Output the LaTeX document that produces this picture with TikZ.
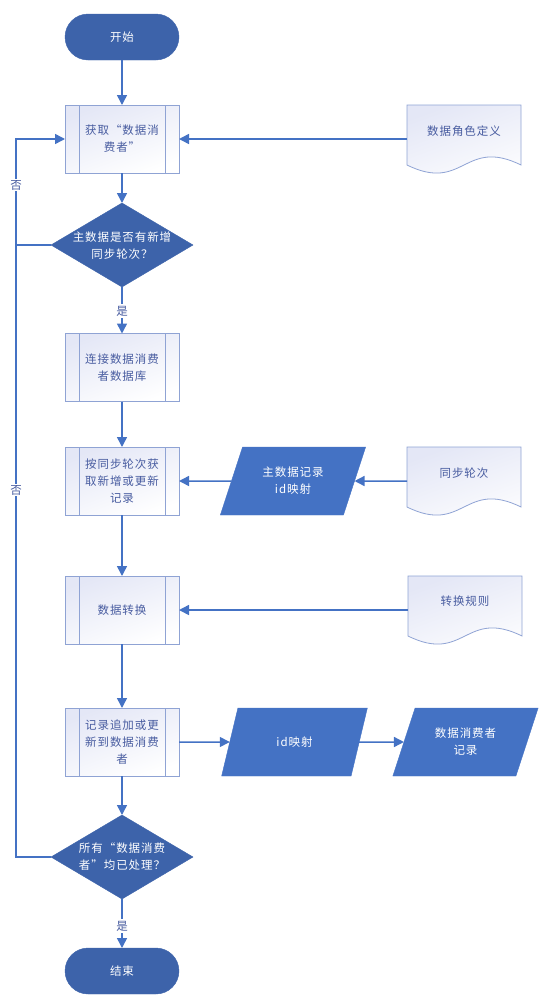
\documentclass[tikz,border=0pt]{standalone}
\usepackage{fontspec}
\setmainfont{Noto Sans CJK SC}
\newfontfamily\fs[LetterSpace=8]{Noto Sans CJK SC}
\usetikzlibrary{shapes.geometric,arrows.meta,backgrounds}
\definecolor{dk}{RGB}{61,99,170}
\definecolor{md}{RGB}{68,114,196}
\definecolor{ln}{RGB}{68,114,196}
\definecolor{bd}{RGB}{143,163,212}
\definecolor{tx}{RGB}{72,92,160}
\definecolor{lf}{RGB}{228,231,246}
\begin{document}
\begin{tikzpicture}[x=1pt,y=-1pt,
  every node/.style={font=\fs\fontsize{11.5pt}{17pt}\selectfont, inner sep=0pt, outer sep=0pt},
  term/.style={draw=dk, fill=dk, rounded corners=23pt, minimum width=114pt, minimum height=46pt, text=white},
  proc/.style={draw=bd, line width=0.8pt, shading=axis, top color=lf, bottom color=white, shading angle=20,
    minimum width=114pt, minimum height=68pt, text=tx, align=center,
    path picture={\draw[bd, line width=0.8pt]
      ([xshift=14pt]path picture bounding box.north west) -- ([xshift=14pt]path picture bounding box.south west)
      ([xshift=-14pt]path picture bounding box.north east) -- ([xshift=-14pt]path picture bounding box.south east);}},
  dia/.style={shape=diamond, fill=dk, draw=dk, minimum width=142pt, minimum height=84pt, aspect=1.69},
  diatext/.style={text=white, align=center},
  para/.style={shape=trapezium, trapezium stretches=true, trapezium left angle=64, trapezium right angle=116,
    fill=md, draw=md, minimum width=146pt, minimum height=68pt, text=white, align=center},
  docbox/.style={minimum width=114pt, minimum height=68pt},
  doctext/.style={text=tx, align=center},
  yesno/.style={fill=white, text=tx, inner sep=1.5pt},
  arr/.style={draw=ln, line width=1.5pt, -{Triangle[length=10pt,width=10pt]}},
  con/.style={draw=ln, line width=1.5pt},
  docshape/.style={draw=bd, line width=0.8pt, shading=axis, top color=lf, bottom color=white, shading angle=20}
]
\useasboundingbox (0,0) rectangle (550,999);

% main column
\node[term] (st) at (122,37) {开始};
\node[proc] (b1) at (122,139) {获取“数据消\\费者”};
\node[dia] (dd1) at (122,245) {};
\node[diatext] (dt1) at (122,246) {主数据是否有新增\\同步轮次？};
\node[proc] (b2) at (122,367.5) {连接数据消费\\者数据库};
\node[proc] (b3) at (122,481) {按同步轮次获\\取新增或更新\\记录};
\node[proc] (b4) at (122,610) {数据转换};
\node[proc] (b5) at (122,742) {记录追加或更\\新到数据消费\\者};
\node[dia] (dd2) at (122,857) {};
\node[diatext] (dt2) at (122,857) {所有“数据消费\\者”均已处理？};
\node[term] (en) at (122,971) {结束};

% documents
\node[docbox] (dc1) at (464,139) {};
\node[docbox] (dc2) at (464,481) {};
\node[docbox] (dc3) at (465,610) {};
\begin{scope}[on background layer]
\foreach \n in {dc1,dc2,dc3}{
  \path[docshape] (\n.north west) -- (\n.north east) -- ([yshift=8pt]\n.south east)
    .. controls ([xshift=-57pt,yshift=36pt]\n.south east) and ([xshift=57pt,yshift=-20pt]\n.south west)
    .. ([yshift=8pt]\n.south west) -- cycle;
}
\end{scope}
\node[doctext] (dct1) at (464,131) {数据角色定义};
\node[doctext] (dct2) at (464,473) {同步轮次};
\node[doctext] (dct3) at (465,601) {转换规则};

% parallelograms
\node[para] (p1) at (293,481) {主数据记录\\id映射};
\node[para] (p2) at (294.5,742) {id映射};
\node[para] (p3) at (465.5,742) {数据消费者\\记录};

% connectors
\draw[arr] (st) -- (b1);
\draw[arr] (b1) -- (dd1);
\draw[arr] (dd1) -- (b2);
\draw[arr] (b2) -- (b3);
\draw[arr] (b3) -- (b4);
\draw[arr] (b4) -- (b5);
\draw[arr] (b5) -- (dd2);
\draw[arr] (dd2) -- (en);
\draw[arr] (dc1) -- (b1);
\draw[arr] (dc2) -- (p1);
\draw[arr] (p1) -- (b3);
\draw[arr] (dc3) -- (b4);
\draw[arr] (b5) -- (p2);
\draw[arr] (p2) -- (p3);

\coordinate (lp) at (16,500);
\draw[arr] (dd2.west) -- (dd2.west -| lp) -- (b1.west -| lp) -- (b1.west);
\draw[con] (dd1.west) -- (dd1.west -| lp);

\node[yesno] (y1) at (122,311) {是};
\node[yesno] (y2) at (122,926) {是};
\node[yesno] (n1) at (16,185) {否};
\node[yesno] (n2) at (16,490) {否};
\end{tikzpicture}
\end{document}
